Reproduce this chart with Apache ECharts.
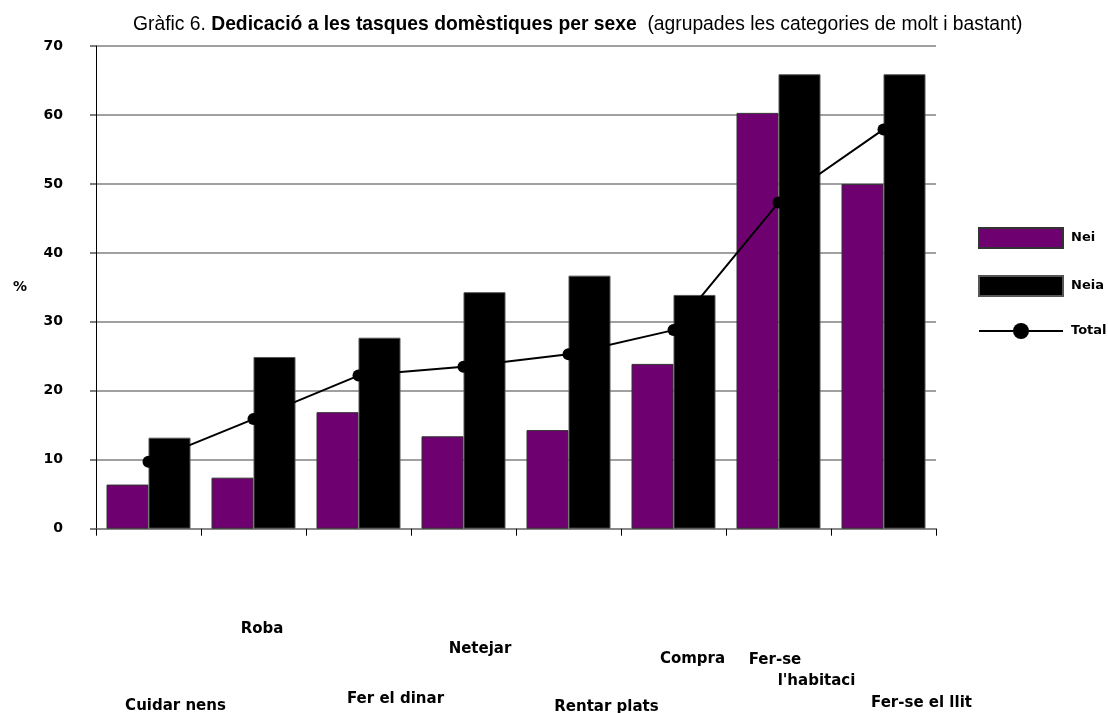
<!DOCTYPE html>
<html><head><meta charset="utf-8">
<script src="https://cdn.jsdelivr.net/npm/echarts@6/dist/echarts.min.js"></script>
<style>html,body{margin:0;padding:0;background:#fff}#c{width:1108px;height:713px}</style>
</head><body><div id="c"></div>
<script>
const categories = ['Cuidar nens', 'Roba', 'Fer el dinar', 'Netejar', 'Rentar plats', 'Compra', "Fer-se\nl'habitaci", 'Fer-se el llit'];
const nei = [6.4, 7.4, 16.9, 13.4, 14.3, 23.9, 60.3, 50.0];
const neia = [13.2, 24.9, 27.7, 34.3, 36.7, 33.9, 65.9, 65.9];
const total = [9.7, 15.9, 22.2, 23.5, 25.3, 28.8, 47.3, 57.9];
const seriesNames = ['Nei', 'Neia', 'Total'];
const yAxisName = '%';
const titleParts = ['Gràfic 6. ', 'Dedicació a les tasques domèstiques per sexe', '  (agrupades les categories de molt i bastant)'];

// staggered category-label placement: per line [dx from category centre, dy below the axis]
const labelShift = [
  [[27, 177.3]],
  [[8.5, 100.3]],
  [[37, 170.3]],
  [[16.5, 120.3]],
  [[38, 178.3]],
  [[19, 130.3]],
  [[-3.5, 131.3], [38, 152.3]],
  [[38, 174.3]]
];

const labelFont = {fontFamily: 'DejaVu Sans', fontWeight: 'bold', fontSize: 15, color: '#000'};

const chart = echarts.init(document.getElementById('c'));
chart.setOption({
  backgroundColor: '#fff',
  animation: false,
  title: {
    left: 128, top: 9,
    text: '{n|' + titleParts[0] + '}{b|' + titleParts[1] + '}{n|' + titleParts[2] + '}',
    textStyle: {
      rich: {
        n: {fontFamily: 'Liberation Sans', fontSize: 19.3, fontWeight: 'normal', color: '#000', lineHeight: 22},
        b: {fontFamily: 'Liberation Sans', fontSize: 19.3, fontWeight: 'bold', color: '#000', lineHeight: 22}
      }
    }
  },
  legend: {
    orient: 'vertical', left: 973, top: 222,
    itemWidth: 84, itemHeight: 20, itemGap: 26,
    data: [{name: seriesNames[0], icon: 'rect'}, {name: seriesNames[1], icon: 'rect'}, {name: seriesNames[2]}],
    textStyle: {fontFamily: 'DejaVu Sans', fontWeight: 'bold', fontSize: 13, color: '#000', padding: [0, 0, 0, 3]}
  },
  grid: {left: 96, right: 172, top: 46, bottom: 184.3, outerBoundsMode: 'none'},
  xAxis: {
    type: 'category', data: categories, boundaryGap: true,
    axisLine: {lineStyle: {color: '#808080', width: 1.5}},
    axisTick: {show: true, length: 7, lineStyle: {color: '#000', width: 1}},
    axisLabel: {show: false}
  },
  yAxis: {
    type: 'value', min: 0, max: 70, interval: 10,
    name: yAxisName, nameLocation: 'middle', nameRotate: 0, nameGap: 69,
    nameTextStyle: {fontFamily: 'DejaVu Sans', fontWeight: 'bold', fontSize: 14, color: '#000'},
    axisLine: {show: true, lineStyle: {color: '#000', width: 1}},
    axisTick: {show: true, length: 6, lineStyle: {color: '#555', width: 1.5}},
    axisLabel: {margin: 33, fontFamily: 'DejaVu Sans', fontWeight: 'bold', fontSize: 14, color: '#000'},
    splitLine: {show: true, lineStyle: {color: '#808080', width: 1.5}}
  },
  series: [
    {name: seriesNames[0], type: 'bar', data: nei, barGap: '0%', barCategoryGap: '20%',
     itemStyle: {color: '#6f006f', borderColor: '#333', borderWidth: 1}},
    {name: seriesNames[1], type: 'bar', data: neia, barGap: '0%', barCategoryGap: '20%',
     itemStyle: {color: '#000', borderColor: '#555', borderWidth: 1}},
    {name: seriesNames[2], type: 'line', data: total, z: 5,
     symbol: 'circle', symbolSize: 12, itemStyle: {color: '#000'},
     lineStyle: {color: '#000', width: 2}}
  ]
});

// category labels, placed from the category axis scale
const y0 = chart.convertToPixel({yAxisIndex: 0}, 0);
const labelElements = [];
categories.forEach((cat, i) => {
  const cx = chart.convertToPixel({xAxisIndex: 0}, i);
  cat.split('\n').forEach((line, j) => {
    const s = labelShift[i][j];
    labelElements.push({
      type: 'text', x: cx + s[0], y: y0 + s[1], silent: true,
      style: Object.assign({text: line, align: 'center', verticalAlign: 'middle'}, labelFont, {fill: '#000'})
    });
  });
});
chart.setOption({graphic: labelElements});
</script></body></html>
